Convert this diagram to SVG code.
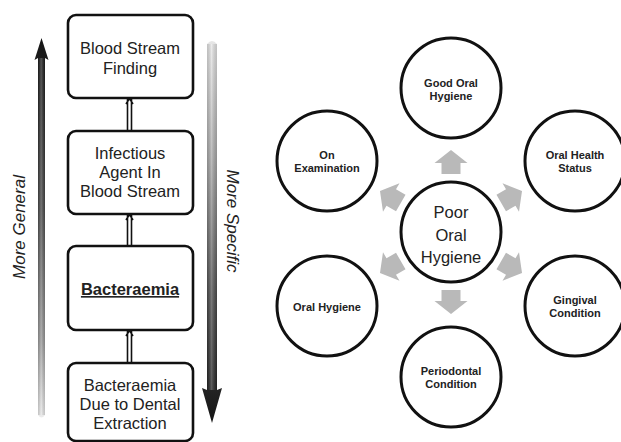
<svg xmlns="http://www.w3.org/2000/svg" width="621" height="442" viewBox="0 0 621 442">
  <defs>
    <linearGradient id="gradUp" x1="0" y1="0" x2="0" y2="1">
      <stop offset="0" stop-color="#151515"/>
      <stop offset="0.45" stop-color="#4a4a4a"/>
      <stop offset="0.8" stop-color="#9a9a9a"/>
      <stop offset="1" stop-color="#ececec"/>
    </linearGradient>
    <linearGradient id="gradDown" x1="0" y1="0" x2="0" y2="1">
      <stop offset="0" stop-color="#e6e6e6"/>
      <stop offset="0.3" stop-color="#a8a8a8"/>
      <stop offset="0.65" stop-color="#505050"/>
      <stop offset="1" stop-color="#151515"/>
    </linearGradient>
    <linearGradient id="shine" x1="0" y1="0" x2="1" y2="0">
      <stop offset="0" stop-color="#000" stop-opacity="0.15"/>
      <stop offset="0.45" stop-color="#fff" stop-opacity="0.25"/>
      <stop offset="1" stop-color="#000" stop-opacity="0.15"/>
    </linearGradient>
    <path id="blockArrow" d="M0,-82 L16.5,-69 L9.5,-69 L9.5,-58 L-9.5,-58 L-9.5,-69 L-16.5,-69 Z"/>
  </defs>
  <style>
    .box { fill: #fff; stroke: #111; stroke-width: 2.6; }
    .circ { fill: #fff; stroke: #111; stroke-width: 3; }
    .btxt { font-family: "Liberation Sans", Arial, sans-serif; font-size: 16.5px; fill: #222; text-anchor: middle; }
    .ctxt { font-family: "Liberation Sans", Arial, sans-serif; font-size: 11px; font-weight: bold; fill: #222; text-anchor: middle; }
    .side { font-family: "Liberation Sans", Arial, sans-serif; font-size: 17px; font-style: italic; fill: #222; text-anchor: middle; }
    .link { stroke: #111; stroke-width: 1.6; fill: none; }
    .grey { fill: #b9b9b9; }
  </style>

  <rect width="621" height="442" fill="#fff"/>

  <!-- side gradient arrows -->
  <g id="arrow-general">
    <path d="M41.5,38 L48.5,60 L45,58 L45,415 Q41.5,420 38,415 L38,58 L34.5,60 Z" fill="url(#gradUp)"/>
    <rect x="38" y="58" width="7" height="357" fill="url(#shine)"/>
  </g>
  <g id="arrow-specific">
    <path d="M207,44 Q212,38 217,44 L217,390 L222,388 L212,423 L202,388 L207,390 Z" fill="url(#gradDown)"/>
    <rect x="207" y="44" width="10" height="346" fill="url(#shine)"/>
  </g>
  <text class="side" transform="translate(25,227) rotate(-90)">More General</text>
  <text class="side" transform="translate(227,221) rotate(90)">More Specific</text>

  <!-- hierarchy links (double lines, pointing up) -->
  <g id="links">
    <path class="link" d="M127.5,131 V99 M131.5,131 V99 M126,104 L129.5,98.5 L133,104"/>
    <path class="link" d="M127.5,246 V215 M131.5,246 V215 M126,220 L129.5,214.5 L133,220"/>
    <path class="link" d="M127.5,363 V331 M131.5,363 V331 M126,336 L129.5,330.5 L133,336"/>
  </g>

  <g id="blood-stream-finding">
    <rect class="box" x="68" y="15" width="125" height="83" rx="8"/>
    <text class="btxt" x="130" y="54">Blood Stream</text>
    <text class="btxt" x="130" y="74">Finding</text>
  </g>
  <g id="infectious-agent">
    <rect class="box" x="68" y="131" width="125" height="83" rx="8"/>
    <text class="btxt" x="130" y="159">Infectious</text>
    <text class="btxt" x="130" y="178">Agent In</text>
    <text class="btxt" x="130" y="197">Blood Stream</text>
  </g>
  <g id="bacteraemia">
    <rect class="box" x="68" y="246" width="125" height="84" rx="8"/>
    <text class="btxt" x="130" y="295" font-weight="bold" text-decoration="underline">Bacteraemia</text>
  </g>
  <g id="bacteraemia-dental">
    <rect class="box" x="68" y="363" width="125" height="78" rx="8"/>
    <text class="btxt" x="130" y="391">Bacteraemia</text>
    <text class="btxt" x="130" y="410">Due to Dental</text>
    <text class="btxt" x="130" y="429">Extraction</text>
  </g>

  <!-- radial arrows from the centre -->
  <g id="radial-arrows" class="grey" transform="translate(451,232)">
    <use href="#blockArrow"/>
    <use href="#blockArrow" transform="rotate(60)"/>
    <use href="#blockArrow" transform="rotate(120)"/>
    <use href="#blockArrow" transform="rotate(180)"/>
    <use href="#blockArrow" transform="rotate(240)"/>
    <use href="#blockArrow" transform="rotate(300)"/>
  </g>

  <g id="poor-oral-hygiene">
    <circle class="circ" cx="451" cy="232" r="50"/>
    <text class="btxt" x="451" y="218" font-size="18px">Poor</text>
    <text class="btxt" x="451" y="241" font-size="18px">Oral</text>
    <text class="btxt" x="451" y="263" font-size="18px">Hygiene</text>
  </g>
  <g id="good-oral-hygiene">
    <circle class="circ" cx="451" cy="88" r="50"/>
    <text class="ctxt" x="451" y="87">Good Oral</text>
    <text class="ctxt" x="451" y="100">Hygiene</text>
  </g>
  <g id="oral-health-status">
    <circle class="circ" cx="575" cy="161" r="50"/>
    <text class="ctxt" x="575" y="159">Oral Health</text>
    <text class="ctxt" x="575" y="172">Status</text>
  </g>
  <g id="gingival-condition">
    <circle class="circ" cx="575" cy="306" r="50"/>
    <text class="ctxt" x="575" y="304">Gingival</text>
    <text class="ctxt" x="575" y="317">Condition</text>
  </g>
  <g id="periodontal-condition">
    <circle class="circ" cx="451" cy="377" r="50"/>
    <text class="ctxt" x="451" y="375">Periodontal</text>
    <text class="ctxt" x="451" y="388">Condition</text>
  </g>
  <g id="oral-hygiene">
    <circle class="circ" cx="327" cy="306" r="50"/>
    <text class="ctxt" x="327" y="311">Oral Hygiene</text>
  </g>
  <g id="on-examination">
    <circle class="circ" cx="327" cy="161" r="50"/>
    <text class="ctxt" x="327" y="159">On</text>
    <text class="ctxt" x="327" y="172">Examination</text>
  </g>
</svg>
